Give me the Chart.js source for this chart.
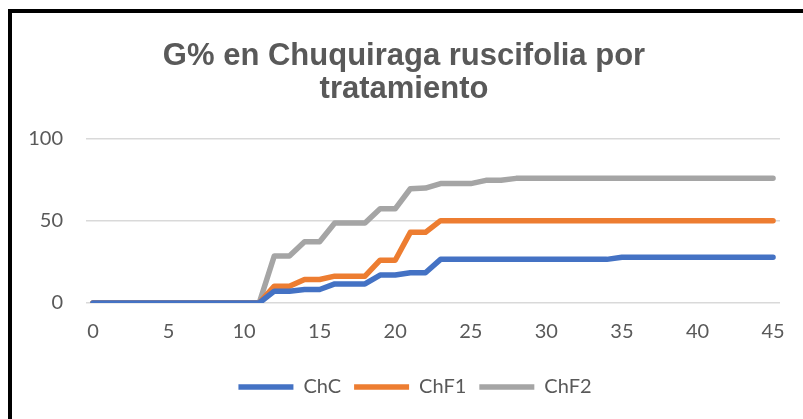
<!DOCTYPE html>
<html>
<head>
<meta charset="utf-8">
<script src="https://cdn.jsdelivr.net/npm/chart.js@4/dist/chart.umd.min.js"></script>
<style>
  html, body { margin: 0; padding: 0; background: #fff; overflow: hidden; }
  #wrap { position: relative; width: 803px; height: 419px; }
  #frame {
    position: absolute; left: 8px; top: 9px; width: 900px; height: 500px;
    border-left: 4px solid #000; border-top: 4px solid #000;
    pointer-events: none;
  }
</style>
</head>
<body>
<div id="wrap">
  <canvas id="germChart" width="803" height="419"></canvas>
  <div id="frame"></div>
</div>
<script>
// days after sowing (0..45)
const days = Array.from({ length: 46 }, (_, i) => i);
const xTickValues = [0, 5, 10, 15, 20, 25, 30, 35, 40, 45];
const yTickValues = [0, 50, 100];

const seriesNames = ['ChC', 'ChF1', 'ChF2'];
const seriesColors = ['#4472C4', '#ED7D31', '#A5A5A5'];

// G%, one value per day
const chC = [
  0, 0, 0, 0, 0, 0, 0, 0, 0, 0, 0, 0,
  7.2, 7.2, 8.2, 8.2, 11.6, 11.6, 11.6, 17, 17, 18.4, 18.4,
  26.5, 26.5, 26.5, 26.5, 26.5, 26.5, 26.5, 26.5, 26.5, 26.5, 26.5, 26.5,
  27.8, 27.8, 27.8, 27.8, 27.8, 27.8, 27.8, 27.8, 27.8, 27.8, 27.8
];
const chF1 = [
  0, 0, 0, 0, 0, 0, 0, 0, 0, 0, 0, 0,
  10.2, 10.2, 14.3, 14.3, 16.3, 16.3, 16.3, 26, 26, 42.9, 42.9,
  50, 50, 50, 50, 50, 50, 50, 50, 50, 50, 50, 50,
  50, 50, 50, 50, 50, 50, 50, 50, 50, 50, 50
];
const chF2 = [
  0, 0, 0, 0, 0, 0, 0, 0, 0, 0, 0, 0,
  28.6, 28.6, 37.2, 37.2, 48.6, 48.6, 48.6, 57.2, 57.2, 69.4, 69.8,
  72.5, 72.5, 72.5, 74.5, 74.5, 75.7, 75.7, 75.7, 75.7, 75.7, 75.7, 75.7,
  75.7, 75.7, 75.7, 75.7, 75.7, 75.7, 75.7, 75.7, 75.7, 75.7, 75.7
];
const seriesValues = [chC, chF1, chF2];

const tickFont = { family: "Lato, 'Open Sans', sans-serif", size: 20 };

const datasets = seriesNames.map((name, i) => ({
  label: name,
  data: days.map((d, j) => ({ x: d, y: seriesValues[i][j] })),
  borderColor: seriesColors[i],
  backgroundColor: seriesColors[i],
  borderWidth: 5.5,
  borderCapStyle: 'round',
  borderJoinStyle: 'round',
  pointRadius: 0,
  pointHoverRadius: 0,
  tension: 0,
  fill: false
}));

// nudge the legend a bit to the right, like the original
const legendShift = {
  id: 'legendShift',
  afterLayout(chart) {
    if (chart.legend) {
      chart.legend.left += 11;
      chart.legend.right += 11;
    }
  }
};

new Chart(document.getElementById('germChart'), {
  type: 'line',
  data: { datasets },
  plugins: [legendShift],
  options: {
    responsive: false,
    animation: false,
    layout: { padding: { left: 28, right: 23, top: 0, bottom: 12 } },
    scales: {
      x: {
        type: 'linear',
        min: -0.46,
        max: 45.46,
        afterBuildTicks: (scale) => {
          scale.ticks = xTickValues.map(v => ({ value: v }));
        },
        afterFit: (scale) => { scale.height = 61; },
        grid: { display: false, drawTicks: false },
        border: { display: false },
        ticks: {
          color: '#595959',
          font: tickFont,
          padding: 17,
          maxRotation: 0,
          autoSkip: false
        }
      },
      y: {
        min: 0,
        max: 100,
        afterBuildTicks: (scale) => {
          scale.ticks = yTickValues.map(v => ({ value: v }));
        },
        afterFit: (scale) => { scale.width = 58; },
        grid: { color: '#D9D9D9', lineWidth: 1.5, drawTicks: false },
        border: { display: false },
        ticks: {
          color: '#595959',
          font: tickFont,
          padding: 23
        }
      }
    },
    plugins: {
      title: {
        display: true,
        text: ['G% en Chuquiraga ruscifolia por', 'tratamiento'],
        color: '#595959',
        font: { family: "'Liberation Sans', Arial, sans-serif", size: 31, weight: 'bold', lineHeight: 1.07 },
        padding: { top: 40, bottom: 32 }
      },
      legend: {
        position: 'bottom',
        labels: {
          color: '#595959',
          font: tickFont,
          usePointStyle: true,
          pointStyle: 'line',
          pointStyleWidth: 55,
          padding: 13
        }
      },
      tooltip: { enabled: false }
    }
  }
});
</script>
</body>
</html>
